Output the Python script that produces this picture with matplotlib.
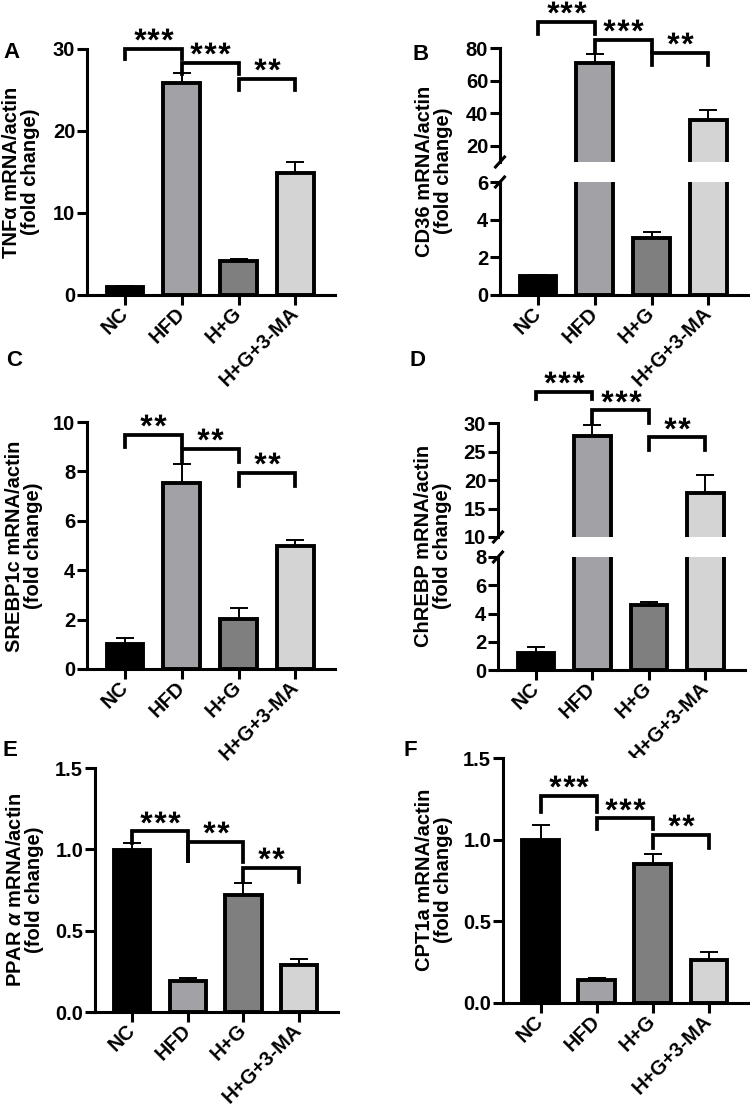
import matplotlib
matplotlib.use("Agg")
import matplotlib.pyplot as plt
import matplotlib.transforms as mtransforms
from matplotlib.textpath import TextPath
from matplotlib.path import Path
from matplotlib.font_manager import FontProperties
import numpy as np

plt.rcParams['font.family'] = ['Liberation Sans', 'DejaVu Sans']
plt.rcParams['font.weight'] = 'bold'
plt.rcParams['mathtext.fontset'] = 'custom'
plt.rcParams['mathtext.it'] = 'Liberation Sans:italic:bold'
plt.rcParams['mathtext.rm'] = 'Liberation Sans:bold'

W, H = 750, 1105

groups = ["NC", "HFD", "H+G", "H+G+3-MA"]
bar_colors = ["#000000", "#a2a2a6", "#7f7f7f", "#d4d4d4"]

# mean / SEM per gene (fold change)
tnfa_mean = [0.95, 25.8, 4.1, 14.9]
tnfa_sem = [0.15, 1.3, 0.25, 1.3]
cd36_mean = [1.0, 70.8, 3.03, 35.8]
cd36_sem = [0.08, 5.7, 0.34, 6.3]
srebp_mean = [1.01, 7.53, 2.02, 4.99]
srebp_sem = [0.25, 0.77, 0.44, 0.22]
chrebp_mean = [1.18, 27.7, 4.63, 17.8]
chrebp_sem = [0.47, 1.9, 0.19, 3.0]
ppara_mean = [0.997, 0.19, 0.72, 0.288]
ppara_sem = [0.04, 0.02, 0.075, 0.035]
cpt1a_mean = [1.0, 0.14, 0.85, 0.262]
cpt1a_sem = [0.087, 0.015, 0.063, 0.049]

# significance brackets: (bar i, bar j, top, left leg end, right leg end, stars)
tnfa_sig = [(0, 1, 30.0, 28.8, 28.8, 3), (1, 2, 28.3, 27.0, 27.0, 3),
            (2, 3, 26.4, 25.0, 25.0, 2)]
cd36_sig = [(0, 1, 95.9, 88.8, 88.8, 3), (1, 2, 85.1, 77.6, 77.6, 3),
            (2, 3, 77.1, 69.4, 69.4, 2)]
srebp_sig = [(0, 1, 9.49, 8.99, 8.99, 2), (1, 2, 8.91, 8.37, 8.37, 2),
             (2, 3, 7.94, 7.42, 7.42, 2)]
chrebp_sig = [(0, 1, 35.4, 34.2, 34.2, 3), (1, 2, 32.2, 30.0, 30.0, 3),
              (2, 3, 27.5, 25.3, 25.3, 2)]
ppara_sig = [(0, 1, 1.11, 1.04, 0.93, 3), (1, 2, 1.044, 0.93, 0.925, 2),
             (2, 3, 0.884, 0.80, 0.80, 2)]
cpt1a_sig = [(0, 1, 1.27, 1.17, 1.17, 3), (1, 2, 1.13, 1.064, 1.064, 3),
             (2, 3, 1.03, 0.947, 0.947, 2)]

LW = 2.2
XLIM = (-0.67, 3.7)
FS = 14.5

# asterisk glyph as a centred marker (CLOSEPOLY points moved to the centre)
_tp = TextPath((0, 0), "*", size=1, prop=FontProperties(family="Liberation Sans", weight="bold"))
_codes = _tp.codes
_real = _codes != Path.CLOSEPOLY
_v = _tp.vertices.copy()
_c = (_v[_real].min(axis=0) + _v[_real].max(axis=0)) / 2
_v = _v - _c
_v[~_real] = 0.0
STAR = Path(_v, _codes)


def px_rect(left, top, right, bottom):
    return [left / W, 1 - bottom / H, (right - left) / W, (bottom - top) / H]


def draw_bars(ax, mean, sem):
    x = np.arange(len(groups))
    ax.errorbar(x, mean, yerr=[np.zeros(len(sem)), sem], fmt='none', ecolor='black',
                elinewidth=1.4, capsize=6.5, capthick=1.4, zorder=2)
    ax.bar(x, mean, width=0.65, color=bar_colors, edgecolor='black', linewidth=2.8, zorder=3)
    ax.set_xlim(*XLIM)
    for s in ["top", "right"]:
        ax.spines[s].set_visible(False)
    for s in ["left", "bottom"]:
        ax.spines[s].set_linewidth(LW)
    ax.tick_params(width=LW, length=7, labelsize=FS)
    ax.tick_params(axis='y', pad=1.5)
    ax.tick_params(axis='x', pad=4)


def set_xlabels(ax):
    ax.set_xticks(np.arange(len(groups)))
    ax.set_xticklabels(groups, rotation=45, ha='right', va='center',
                       rotation_mode='anchor', fontsize=FS)


def draw_sig(ax, sig):
    for i, j, top, lb, rb, n in sig:
        ax.plot([i, i, j, j], [lb, top, top, rb], color='black', lw=2.7,
                clip_on=False, solid_joinstyle='miter', zorder=5)
        for k in range(n):
            dx = (k - (n - 1) / 2) * 10.0
            tr = mtransforms.offset_copy(ax.transData, fig=fig, x=dx, y=10.6, units='points')
            ax.plot([(i + j) / 2], [top], marker=STAR, ms=8.8, mew=0, color='black',
                    transform=tr, clip_on=False, zorder=5)


def simple_panel(rect, mean, sem, sig, ymax, yticks):
    ax = fig.add_axes(rect)
    draw_bars(ax, mean, sem)
    ax.set_ylim(0, ymax)
    ax.set_yticks(yticks)
    set_xlabels(ax)
    draw_sig(ax, sig)
    return ax


def broken_panel(rect_up, rect_lo, mean, sem, sig, ylim_up, ylim_lo, ticks_up, ticks_lo):
    lo = fig.add_axes(rect_lo)
    up = fig.add_axes(rect_up)
    draw_bars(lo, mean, sem)
    draw_bars(up, mean, sem)
    lo.set_ylim(*ylim_lo)
    lo.set_yticks(ticks_lo)
    up.set_ylim(*ylim_up)
    up.set_yticks(ticks_up)
    set_xlabels(lo)
    up.spines["bottom"].set_visible(False)
    up.set_xticks([])
    draw_sig(up, sig)
    # break marks
    for ax, yv in [(up, 0.0), (lo, 1.0)]:
        bb = ax.get_position()
        dx = 4.5 / (bb.width * W)
        dy = 5.0 / (bb.height * H)
        ax.plot([-dx, dx], [yv - dy, yv + dy], transform=ax.transAxes, color='black',
                lw=LW, clip_on=False)
    return up, lo


fig = plt.figure(figsize=(W / 100, H / 100), dpi=100)

simple_panel(px_rect(87, 49, 335, 295), tnfa_mean, tnfa_sem, tnfa_sig, 30, [0, 10, 20, 30])
broken_panel(px_rect(500, 48, 748, 162), px_rect(500, 182, 748, 295), cd36_mean, cd36_sem,
             cd36_sig, (10, 80), (0, 6), [20, 40, 60, 80], [0, 2, 4, 6])
simple_panel(px_rect(87, 422, 335, 669), srebp_mean, srebp_sem, srebp_sig, 10, [0, 2, 4, 6, 8, 10])
broken_panel(px_rect(498, 423, 745, 537), px_rect(498, 557, 745, 670), chrebp_mean, chrebp_sem,
             chrebp_sig, (10, 30), (0, 8), [10, 15, 20, 25, 30], [0, 2, 4, 6, 8])
simple_panel(px_rect(95, 768, 338, 1012), ppara_mean, ppara_sem, ppara_sig, 1.5, [0.0, 0.5, 1.0, 1.5])
simple_panel(px_rect(503, 758, 748, 1003), cpt1a_mean, cpt1a_sem, cpt1a_sig, 1.5, [0.0, 0.5, 1.0, 1.5])

for ax in fig.axes:
    if ax.get_ylim()[1] <= 1.5:
        ax.set_yticklabels(["0.0", "0.5", "1.0", "1.5"])

ylabels = [
    ("TNFα mRNA/actin\n(fold change)", 21, 172),
    ("CD36 mRNA/actin\n(fold change)", 434, 171),
    ("SREBP1c mRNA/actin\n(fold change)", 24, 546),
    ("ChREBP mRNA/actin\n(fold change)", 433, 546),
    ("PPAR $\\alpha$ mRNA/actin\n(fold change)", 25, 890),
    ("CPT1a mRNA/actin\n(fold change)", 434, 880),
]
for txt, x, y in ylabels:
    fig.text(x / W, 1 - y / H, txt, rotation=90, ha='center', va='center',
             multialignment='center', fontsize=14.5, linespacing=1.0)

letters = [("A", 12, 53), ("B", 421, 54), ("C", 14, 361), ("D", 417, 360),
           ("E", 10, 751), ("F", 410, 750)]
for t, x, y in letters:
    fig.text(x / W, 1 - y / H, t, ha='center', va='center', fontsize=16)

fig.savefig("out.png", dpi=100)
